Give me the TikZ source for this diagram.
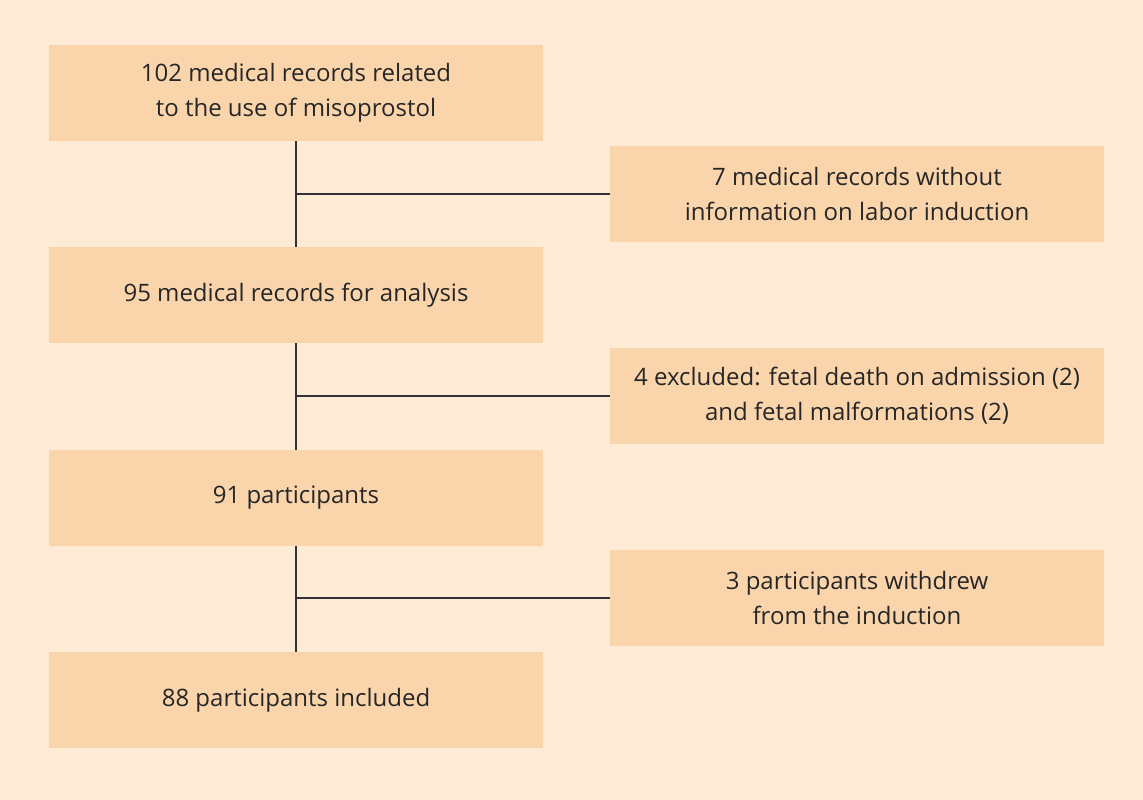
\documentclass[tikz,border=0pt]{standalone}
\usepackage{fontspec}
\setmainfont{Open Sans}
\definecolor{bg}{HTML}{FDEBD5}
\definecolor{bx}{HTML}{FAD5AC}
\begin{document}
\begin{tikzpicture}[x=1pt,y=-1pt,
  box/.style={fill=bx,minimum width=494pt,minimum height=96pt,align=center,font=\fontsize{24}{35}\selectfont,text=black!85,inner sep=0pt},
  ln/.style={draw=black!80,line width=1.2pt}]
\fill[bg] (0,0) rectangle (1143,800);
\useasboundingbox (0,0) rectangle (1143,800);
\node[box] (a) at (296,93) {102 medical records related\\to the use of misoprostol};
\node[box] (b) at (296,295) {95 medical records for analysis};
\node[box] (c) at (296,498) {91 participants};
\node[box] (d) at (296,700) {88 participants included};
\node[box] (e1) at (857,194) {7 medical records without\\information on labor induction};
\node[box] (e2) at (857,396) {4 excluded: fetal death on admission (2)\\and fetal malformations (2)};
\node[box] (e3) at (857,598) {3 participants withdrew\\from the induction};
\draw[ln] (a.south) -- (b.north);
\draw[ln] (b.south) -- (c.north);
\draw[ln] (c.south) -- (d.north);
\draw[ln] (e1.west) -- (e1.west -| a.south);
\draw[ln] (e2.west) -- (e2.west -| a.south);
\draw[ln] (e3.west) -- (e3.west -| a.south);
\end{tikzpicture}
\end{document}
